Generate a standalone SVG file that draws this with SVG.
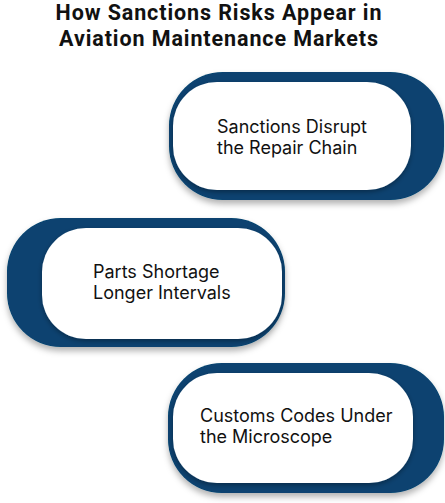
<svg xmlns="http://www.w3.org/2000/svg" width="445" height="503" viewBox="0 0 445 503">
<defs>
<filter id="sh" x="-20%" y="-20%" width="140%" height="150%">
<feDropShadow dx="0" dy="4" stdDeviation="3" flood-color="#000" flood-opacity="0.3"/>
</filter>
<filter id="sh2" x="-20%" y="-20%" width="140%" height="150%">
<feDropShadow dx="0" dy="2" stdDeviation="2.5" flood-color="#000" flood-opacity="0.35"/>
</filter>
</defs>
<style>
.title{font-family:Roboto,"Noto Sans",sans-serif;font-weight:700;font-size:21.5px;letter-spacing:0.9px;fill:#111;text-anchor:middle}
.dark{fill:#07436F}
.inner{fill:#fff}
.lbl{font-family:Inter,"Noto Sans",sans-serif;font-size:18px;fill:#111}
</style>
<rect width="445" height="503" fill="#fff"/>
<g id="title">
<text class="title" x="219" y="20">How Sanctions Risks Appear in</text>
<text class="title" x="219" y="45.5">Aviation Maintenance Markets</text>
</g>
<g id="connectors"></g>
<g id="node1">
<rect class="dark" x="169" y="72" width="275" height="128" rx="54" filter="url(#sh)"/>
<rect class="inner" x="173" y="82" width="238" height="108" rx="44" filter="url(#sh2)"/>
<text class="lbl" x="217" y="133">Sanctions Disrupt</text>
<text class="lbl" x="217" y="154">the Repair Chain</text>
</g>
<g id="node2">
<rect class="dark" x="7" y="218" width="278" height="129" rx="54" filter="url(#sh)"/>
<rect class="inner" x="42" y="228" width="240" height="111" rx="44" filter="url(#sh2)"/>
<text class="lbl" x="93" y="278">Parts Shortage</text>
<text class="lbl" x="93" y="299">Longer Intervals</text>
</g>
<g id="node3">
<rect class="dark" x="168" y="363" width="276" height="130" rx="54" filter="url(#sh)"/>
<rect class="inner" x="173" y="373" width="240" height="110" rx="44" filter="url(#sh2)"/>
<text class="lbl" x="200" y="422">Customs Codes Under</text>
<text class="lbl" x="200" y="443">the Microscope</text>
</g>
</svg>
